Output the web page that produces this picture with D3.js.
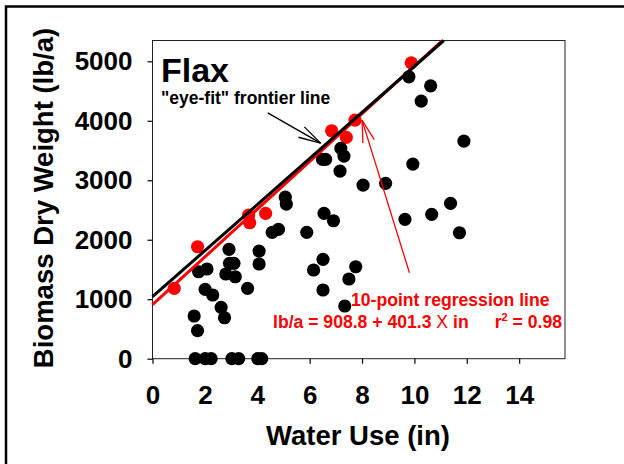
<!DOCTYPE html>
<html>
<head>
<meta charset="utf-8">
<script src="https://cdn.jsdelivr.net/npm/d3@7"></script>
<style>
body { margin: 0; background: #fff; }
svg { display: block; font-family: "Liberation Sans", Arial, sans-serif; }
</style>
</head>
<body>
<div id="wrapper"></div>
<script>
var W = 624, H = 464;
var plot = {left: 152.5, right: 565, top: 40.5, bottom: 358.7};

// 10-point regression set (red)
var redX = [0.83, 1.72, 3.67, 3.71, 4.32, 6.84, 7.40, 7.73, 9.88];
var redY = [1183, 1882, 2415, 2286, 2444, 3832, 3721, 4012, 4975];

// remaining observations (black)
var blackX = [5.07, 5.11, 4.57, 4.81, 5.89, 2.92, 4.07, 2.94, 3.11, 2.80, 3.16, 4.07,
	1.76, 2.08, 3.63, 2.01, 2.30, 2.62, 2.75, 1.59, 1.72,
	1.63, 2.01, 2.24, 3.03, 3.29, 4.02, 4.17,
	6.55, 6.91, 9.64, 10.66, 11.38, 11.72, 6.51, 6.15, 7.76, 7.50, 6.51, 7.34,
	9.79, 10.62, 10.26, 11.89, 9.94, 8.90, 8.04, 7.19, 7.31, 7.16, 6.49, 6.61];
var blackY = [2715, 2600, 2124, 2175, 2124, 1839, 1810, 1603, 1603, 1424, 1378, 1592,
	1462, 1508, 1183, 1166, 1071, 864, 689, 718, 471,
	0, 0, 0, 0, 0, 0, 0,
	2444, 2319, 2343, 2427, 2612, 2118, 1671, 1491, 1546, 1340, 1155, 886,
	4740, 4588, 4331, 3659, 3272, 2948, 2919, 3536, 3407, 3155, 3351, 3351];

var xTicks = [0, 2, 4, 6, 8, 10, 12, 14];
var yTicks = [0, 1000, 2000, 3000, 4000, 5000];
var xMax = 15.75, yMax = 5350;

// lines: intercept, slope
var regLine = [908.8, 401.3];
var eyeLine = [1042, 387.4];

document.addEventListener('DOMContentLoaded', function() {

	var svg = d3.select("#wrapper").append("svg")
		.attr("width", W)
		.attr("height", H);

	// outer frame (only top/left visible)
	svg.append("rect")
		.attr("x", 6).attr("y", 6.5)
		.attr("width", 700).attr("height", 600)
		.attr("fill", "none")
		.attr("stroke", "#000")
		.attr("stroke-width", 2.5);

	var x = d3.scaleLinear().domain([0, xMax]).range([plot.left, plot.right]);
	var y = d3.scaleLinear().domain([0, yMax]).range([plot.bottom, plot.top]);

	svg.append("rect")
		.attr("x", plot.left).attr("y", plot.top)
		.attr("width", plot.right - plot.left)
		.attr("height", plot.bottom - plot.top)
		.attr("fill", "none")
		.attr("stroke", "#222")
		.attr("stroke-width", 1);

	var xAxis = svg.append("g")
		.attr("transform", "translate(0," + plot.bottom + ")")
		.call(d3.axisBottom(x).tickValues(xTicks).tickFormat(d3.format("d"))
			.tickSize(5).tickSizeOuter(0).tickPadding(22));
	var yAxis = svg.append("g")
		.attr("transform", "translate(" + plot.left + ",0)")
		.call(d3.axisLeft(y).tickValues(yTicks).tickFormat(d3.format("d"))
			.tickSize(5).tickSizeOuter(0).tickPadding(15));

	[xAxis, yAxis].forEach(function(a) {
		a.select(".domain").remove();
		a.selectAll("line").attr("stroke", "#000").attr("stroke-width", 1.2);
		a.selectAll("text")
			.attr("fill", "#000")
			.style("font-size", "26px")
			.style("font-weight", "bold")
			.style("font-family", '"Liberation Sans", Arial, sans-serif');
	});

	// axis titles
	svg.append("text")
		.attr("x", 358).attr("y", 445)
		.attr("text-anchor", "middle")
		.style("font-size", "27.5px")
		.style("font-weight", "bold")
		.text("Water Use (in)");

	svg.append("text")
		.attr("transform", "translate(53,198) rotate(-90)")
		.attr("text-anchor", "middle")
		.style("font-size", "27.5px")
		.style("font-weight", "bold")
		.text("Biomass Dry Weight (lb/a)");

	// points
	var red = redX.map(function(v, i) { return {x: v, y: redY[i]}; });
	var black = blackX.map(function(v, i) { return {x: v, y: blackY[i]}; });

	svg.selectAll("circle.red")
		.data(red)
		.enter()
		.append("circle")
		.attr("class", "red")
		.attr("cx", function(d) { return x(d.x); })
		.attr("cy", function(d) { return y(d.y); })
		.attr("r", 6.6)
		.attr("fill", "#ff0000");

	svg.selectAll("circle.black")
		.data(black)
		.enter()
		.append("circle")
		.attr("class", "black")
		.attr("cx", function(d) { return x(d.x); })
		.attr("cy", function(d) { return y(d.y); })
		.attr("r", 6.6)
		.attr("fill", "#000");

	// fitted lines, clipped at the top of the plot
	function linePts(l) {
		var xe = Math.min(xMax, (yMax - l[0]) / l[1]);
		return [[x(0), y(l[0])], [x(xe), y(l[0] + l[1] * xe)]];
	}
	svg.append("path")
		.attr("d", d3.line()(linePts(regLine)))
		.attr("stroke", "#ff0000")
		.attr("stroke-width", 3)
		.attr("fill", "none");
	svg.append("path")
		.attr("d", d3.line()(linePts(eyeLine)))
		.attr("stroke", "#000")
		.attr("stroke-width", 3)
		.attr("fill", "none");

	// arrows (tail/tip in data units)
	function arrow(tail, tip, color) {
		var x1 = x(tail[0]), y1 = y(tail[1]), x2 = x(tip[0]), y2 = y(tip[1]);
		var ang = Math.atan2(y1 - y2, x1 - x2);
		var len = 23, spread = 15 * Math.PI / 180;
		var g = svg.append("g")
			.attr("stroke", color)
			.attr("stroke-width", 1.3)
			.attr("fill", "none");
		g.append("line").attr("x1", x1).attr("y1", y1).attr("x2", x2).attr("y2", y2);
		[-spread, spread].forEach(function(s) {
			g.append("line")
				.attr("x1", x2).attr("y1", y2)
				.attr("x2", x2 + len * Math.cos(ang + s))
				.attr("y2", y2 + len * Math.sin(ang + s));
		});
	}
	arrow([4.40, 4133], [6.42, 3625], "#000");
	arrow([9.81, 1445], [8.00, 4012], "#ff0000");

	// labels
	svg.append("text")
		.attr("x", 161).attr("y", 82.3)
		.style("font-size", "34px")
		.style("font-weight", "bold")
		.text("Flax");

	svg.append("text")
		.attr("x", 161).attr("y", 104.3)
		.style("font-size", "17.5px")
		.style("font-weight", "bold")
		.text('"eye-fit" frontier line');

	svg.append("text")
		.attr("x", 351).attr("y", 306)
		.attr("fill", "#ff0000")
		.style("font-size", "17.6px")
		.style("font-weight", "bold")
		.text("10-point regression line");

	var eq = svg.append("text")
		.attr("x", 273).attr("y", 328)
		.attr("fill", "#ff0000")
		.style("font-size", "17.6px")
		.style("font-weight", "bold");
	eq.append("tspan").text("lb/a = 908.8 + 401.3 ");
	eq.append("tspan").style("font-weight", "normal").text("X");
	eq.append("tspan").text(" in");

	var r2 = svg.append("text")
		.attr("x", 562).attr("y", 328)
		.attr("text-anchor", "end")
		.attr("fill", "#ff0000")
		.style("font-size", "17.6px")
		.style("font-weight", "bold");
	r2.append("tspan").text("r");
	r2.append("tspan").attr("dy", -7).style("font-size", "11px").text("2");
	r2.append("tspan").attr("dy", 7).text(" = 0.98");
});
</script>
</body>
</html>
